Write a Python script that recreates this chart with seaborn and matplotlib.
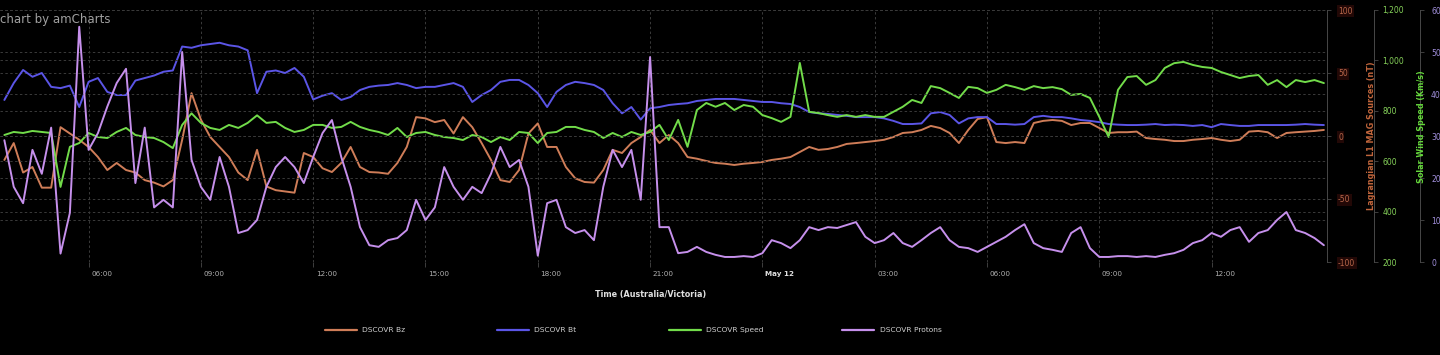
import pandas as pd
import numpy as np
import matplotlib
matplotlib.use("Agg")
import matplotlib.pyplot as plt
import matplotlib.dates as mdates
import matplotlib.transforms as mtransforms
from matplotlib.lines import Line2D
import seaborn as sns

# readings every 15 min, 03:45 May 11 -> 15:00 May 12 (local time)
times = pd.date_range("2024-05-11 03:45", periods=142, freq="15min")

bz = [-19, -5.6, -29, -24.6, -41, -41, 7, 2, -3, -8.7, -16.7, -27, -21.4, -27, -29, -35, -37, -40,
      -35, -3, 34, 13, -0.8, -8.7, -16.7, -29, -35, -11, -40, -43, -44, -45, -13.5, -16.7, -25.6, -28.6,
      -21.4, -8.7, -24.6, -28.6, -29, -30, -21.4, -8.7, 15, 14, 11, 12.7, 2, 15, 7, -5.6, -19, -35,
      -36.5, -27, 2, 10, -8.7, -8.7, -24.6, -33.6, -36.5, -37, -27, -11, -13.5, -5.6, -0.8, 4.8, -5.6,
      0.8, -5.6, -16.7, -18, -19.8, -21.4, -22, -23, -22, -21.4, -20.6, -19, -18, -16.7, -12.7, -8.7,
      -11, -10.3, -8.7, -6.3, -5.6, -4.8, -4, -3, -0.8, 2.4, 3, 4.8, 8, 6.3, 2.4, -5.6, 4.8, 13.5, 15,
      -4.8, -5.6, -4.8, -5.6, 10.3, 12, 12.7, 12, 8.7, 10.3, 10.3, 6.3, 2.4, 3, 3, 3.5, -1.6, -2.4,
      -3, -4, -4, -3, -2.4, -1.6, -3, -4, -3, 3.5, 4, 3, -1.6, 2.4, 3, 3.5, 4, 4.8]

bt = [28.6, 42, 52.4, 47, 50, 39, 38, 40, 23, 43, 46, 35, 32.5, 32.5, 44, 46, 48, 51, 52, 71, 70, 72,
      73, 74, 72, 71, 68, 34, 51, 52, 50, 54, 47, 29, 32, 34,
      28.6, 31, 36.5, 39, 40, 40.5, 42, 40.5, 38, 39, 39, 40.5, 42, 39, 27, 32.5, 36.5, 43, 44.5, 44.5,
      40.5, 34, 23, 35, 40.5, 43, 42, 40.5, 36.5, 26, 18, 23, 13, 22, 23,
      24.6, 25.4, 26, 27.8, 28.6, 29.4, 29.4, 29.4, 28.6, 27.8, 27, 27, 26, 25.4, 23, 19, 18, 17.5,
      16.7, 16, 15, 15, 15, 14, 12, 9.5, 9.5, 10, 18, 19, 16.7, 10, 14, 15, 15,
      9.5, 9.5, 9, 9.5, 15, 16, 15, 15, 14, 12.7, 12, 11, 9.5, 9, 8.7, 8.7, 9, 9.5, 8.7, 9, 8.7, 8,
      8.7, 7, 9.5, 8.7, 8, 8, 8.7, 8.7, 8.7, 8.7, 9, 9.5, 9, 8.7]

speed = [704, 716, 712, 720, 716, 712, 498, 657, 672, 712, 696, 692, 716, 732, 704, 696, 692, 676,
         652, 744, 790, 752, 732, 724, 744, 732, 752, 782, 752, 756, 732, 716, 724, 744, 744, 732,
         736, 756, 736, 724, 716, 704, 732, 696, 712, 716, 704, 696, 692, 684, 704, 696, 676, 696,
         684, 716, 712, 672, 712, 716, 736, 736, 724, 716, 692, 712, 696, 716, 704, 716, 744,
         684, 764, 657, 803, 831, 816, 831, 803, 823, 816, 783, 771, 756, 776, 990, 796, 791, 783,
         776, 783, 776, 783, 776, 776, 796, 816, 843, 831, 898, 890, 871, 851, 895, 890, 871,
         883, 903, 894, 883, 898, 890, 894, 886, 863, 867, 851, 776, 696, 883, 934, 938, 903, 922,
         970, 989, 994, 982, 974, 970, 954, 942, 930, 938, 942, 903, 922, 894, 922, 914, 922, 910]

protons = [29, 17.9, 14, 26.7, 21, 32, 2, 11.7, 56, 26.7, 30.7, 37, 42.6, 46, 18.8, 32, 13, 14.8,
           13, 50, 24.3, 17.9, 14.8, 25, 17.9, 6.9, 7.6, 10, 17.9, 22.6, 25, 22.6, 18.8, 25, 30.7, 33.8,
           25, 17.9, 8.3, 4, 3.6, 5.2, 5.7, 7.6, 14.8, 10, 13, 22.6, 17.9, 14.8, 17.9, 16.4, 21, 27.4,
           22.6, 24.3, 17.9, 1.5, 14, 14.8, 8.3, 6.9, 7.6, 5.2, 17.9, 26.7, 22.6, 26.7, 14.8, 48.8, 8.3,
           8.3, 2.1, 2.4, 3.6, 2.4, 1.7, 1.2, 1.2, 1.4, 1.2, 2.1, 5.2, 4.5, 3.3, 5.2, 8.3, 7.6, 8.3,
           8.1, 8.8, 9.5, 6, 4.5, 5.2, 6.9, 4.5, 3.6, 5.2, 6.9, 8.3, 5.2, 3.6, 3.3, 2.4, 3.6,
           4.8, 6, 7.6, 9, 4.5, 3.3, 2.9, 2.4, 6.9, 8.3, 3.3, 1.2, 1.2, 1.4, 1.4, 1.2, 1.4, 1.2,
           1.7, 2.1, 2.9, 4.5, 5.2, 6.9, 6, 7.6, 8.3, 4.8, 6.9, 7.6, 10, 11.9, 7.6, 6.9, 5.7, 4]

series_names = ["DSCOVR Bz", "DSCOVR Bt", "DSCOVR Speed", "DSCOVR Protons"]
tick_times = pd.date_range("2024-05-11 06:00", "2024-05-12 12:00", freq="3h")
tick_labels = ["06:00", "09:00", "12:00", "15:00", "18:00", "21:00", "May 12",
               "03:00", "06:00", "09:00", "12:00"]

c_bz, c_bt, c_speed, c_prot = "#cf7d58", "#5b55e6", "#72dc4a", "#c690ec"

sns.set_theme(style="dark", rc={"axes.facecolor": "black", "figure.facecolor": "black"})
plt.rcParams["font.family"] = ["DejaVu Sans"]

fig = plt.figure(figsize=(14.4, 3.55), dpi=100)
ax = fig.add_axes([0, 1 - 262 / 355, 1327 / 1440, 252 / 355])
ax_speed = ax.twinx()
ax_prot = ax.twinx()

sns.lineplot(x=times, y=bz, ax=ax, color=c_bz, lw=1.4)
sns.lineplot(x=times, y=bt, ax=ax, color=c_bt, lw=1.4)
sns.lineplot(x=times, y=speed, ax=ax_speed, color=c_speed, lw=1.4)
sns.lineplot(x=times, y=protons, ax=ax_prot, color=c_prot, lw=1.4)

ax.set_xlim(pd.Timestamp("2024-05-11 03:38"), pd.Timestamp("2024-05-12 15:05"))
ax.set_ylim(-100, 100)
ax_speed.set_ylim(200, 1200)
ax_prot.set_ylim(0, 60)

grid_kw = dict(color="#3a3a3a", linestyle=(0, (2.5, 2.5)), linewidth=0.7)
for a in (ax, ax_speed, ax_prot):
    a.set_facecolor("none")
    for s in ("top", "left", "bottom"):
        a.spines[s].set_visible(False)
    a.spines["right"].set_color("#484848")
    a.spines["right"].set_linewidth(0.7)
    a.grid(axis="y", **grid_kw)
    a.set_axisbelow(True)
    a.set_xlabel("")
    a.set_ylabel("")
ax.set_facecolor("black")
ax.grid(axis="x", **grid_kw)

ax_speed.spines["right"].set_position(("outward", 47 * 0.72))
ax_prot.spines["right"].set_position(("outward", 93 * 0.72))

ax.yaxis.tick_right()
ax.set_yticks([-100, -50, 0, 50, 100])
ax.set_yticklabels(["-100", "-50", "0", "50", "100"])
ax.tick_params(axis="y", right=True, left=False, colors="#484848", labelcolor="#b8674a",
               labelsize=5.5, length=3, width=0.6, pad=5)
for lbl in ax.get_yticklabels():
    lbl.set_bbox(dict(facecolor="#220806", edgecolor="none", pad=1.0))

ax_speed.set_yticks([200, 400, 600, 800, 1000, 1200])
ax_speed.set_yticklabels(["200", "400", "600", "800", "1,000", "1,200"])
ax_speed.tick_params(axis="y", colors="#484848", labelcolor="#86d25a",
                     labelsize=5.5, length=3, width=0.6, pad=3)
ax_prot.set_yticks([0, 10, 20, 30, 40, 50, 60])
ax_prot.tick_params(axis="y", colors="#484848", labelcolor="#a18fdb",
                    labelsize=5.5, length=3, width=0.6, pad=5)

ax.set_xticks(mdates.date2num(tick_times))
ax.set_xticklabels(tick_labels)
ax.tick_params(axis="x", bottom=True, colors="#484848", labelcolor="#b0b0b0",
               labelsize=5.2, length=3.5, width=0.6, pad=3)
shift = mtransforms.ScaledTranslation(2.5 / 100, 0, fig.dpi_scale_trans)
for lbl in ax.get_xticklabels():
    lbl.set_ha("left")
    lbl.set_transform(lbl.get_transform() + shift)
    if lbl.get_text() == "May 12":
        lbl.set_fontweight("bold")
        lbl.set_color("#e0e0e0")

fig.text(1371 / 1440, 1 - 136 / 355, "Lagrangian L1 MAG Sources (nT)", rotation=90,
         ha="center", va="center", color="#c2663c", fontsize=5.8, fontweight="bold")
fig.text(1422 / 1440, 1 - 127 / 355, "Solar Wind Speed (Km/s)", rotation=90,
         ha="center", va="center", color="#66d83c", fontsize=5.8, fontweight="bold")
fig.text(651 / 1440, 1 - 294 / 355, "Time (Australia/Victoria)", ha="center", va="center",
         color="#e0e0e0", fontsize=5.8, fontweight="bold")
fig.text(0, 1 - 19 / 355, "chart by amCharts", ha="left", va="center",
         color="#a0a0a0", fontsize=8.5)

# legend, one slot per series
for name, col, x0 in zip(series_names, [c_bz, c_bt, c_speed, c_prot], [325, 497, 669, 842]):
    h = Line2D([], [], color=col, lw=1.6)
    fig.legend(handles=[h], labels=[name], loc="center left",
               bbox_to_anchor=(x0 / 1440, 1 - 330 / 355), frameon=False,
               fontsize=5.4, labelcolor="#d0d0d0", handlelength=4.3, handletextpad=0.7,
               borderpad=0, borderaxespad=0)

fig.savefig("out.png", dpi=100, facecolor="black")
